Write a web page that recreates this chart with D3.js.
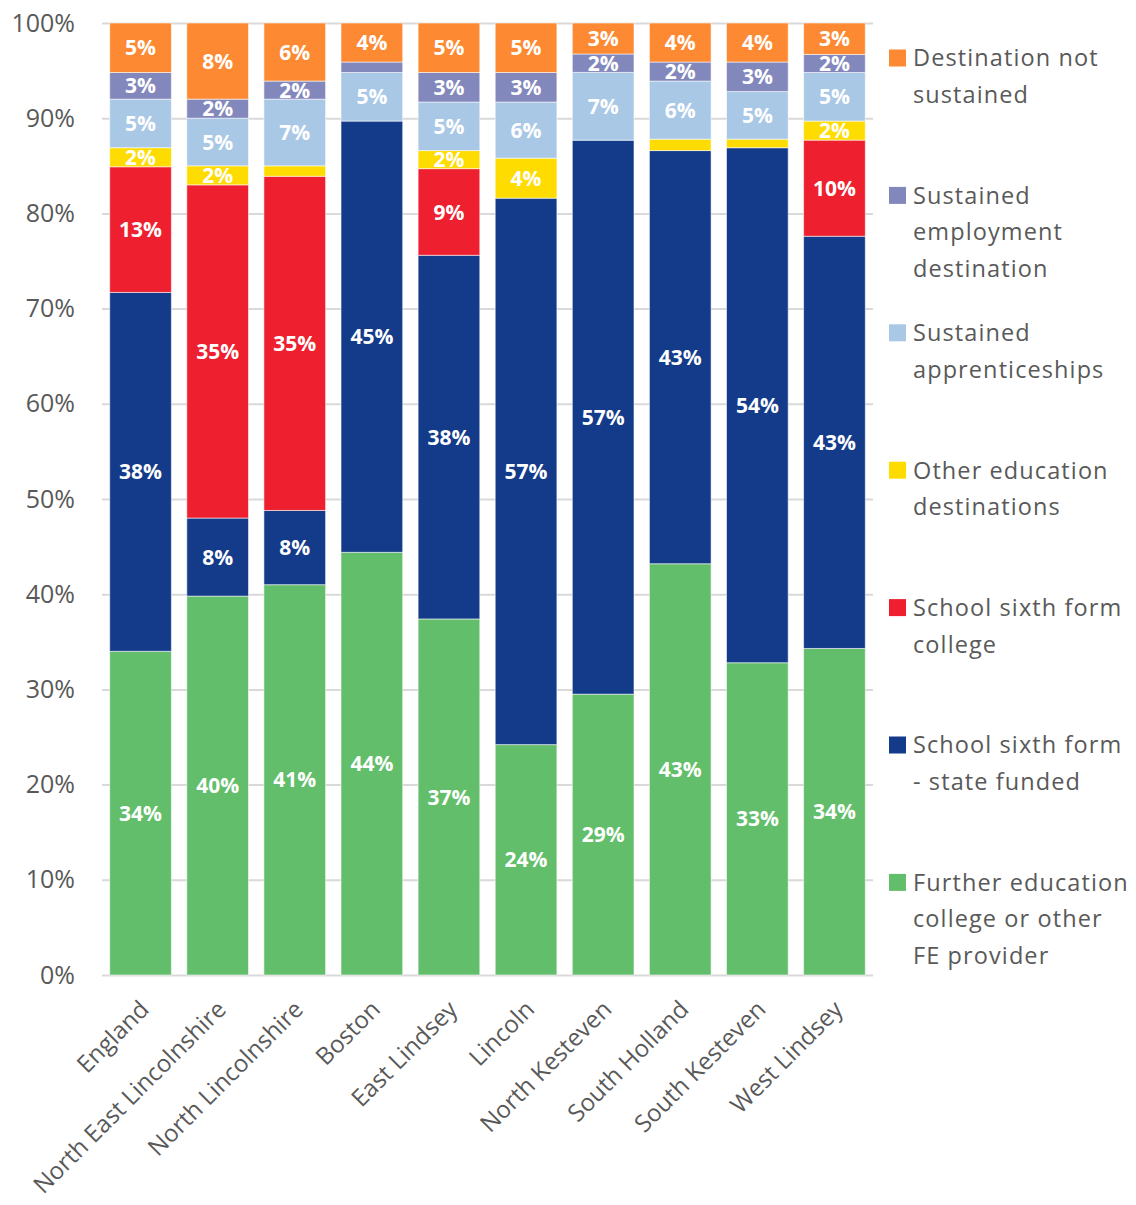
<!DOCTYPE html>
<html>
<head>
<meta charset="utf-8">
<script src="https://cdn.jsdelivr.net/npm/d3@7"></script>
<style>
  html, body { margin: 0; padding: 0; background: #fff; }
  svg { display: block; font-family: "Open Sans", "Noto Sans", sans-serif; }
</style>
</head>
<body>
<svg id="chart" width="1136" height="1205"></svg>
<script>
// ---- data (percent values) ----
const categories = ["England", "North East Lincolnshire", "North Lincolnshire", "Boston", "East Lindsey",
  "Lincoln", "North Kesteven", "South Holland", "South Kesteven", "West Lindsey"];
const furtherEducation     = [34.0, 39.8, 41.0, 44.4, 37.4, 24.2, 29.0, 43.2, 32.8, 34.3];
const sixthFormStateFunded = [37.7,  8.2,  7.8, 45.3, 38.2, 57.4, 57.2, 43.4, 54.1, 43.3];
const sixthFormCollege     = [13.2, 35.0, 35.1,  0.0,  9.1,  0.0,  0.0,  0.0,  0.0, 10.1];
const otherEducation       = [ 2.0,  2.0,  1.1,  0.0,  1.9,  4.2,  0.0,  1.2,  0.9,  2.0];
const apprenticeships      = [ 5.1,  5.0,  7.0,  5.1,  5.1,  5.9,  7.0,  6.1,  5.0,  5.1];
const employment           = [ 2.8,  2.0,  1.9,  1.1,  3.1,  3.1,  1.9,  2.0,  3.1,  1.9];
const notSustained         = [ 5.2,  8.0,  6.1,  4.1,  5.2,  5.2,  3.2,  4.1,  4.1,  3.3];

const seriesKeys = ["fe", "sfState", "sfCollege", "other", "appr", "empl", "notSust"];
const seriesValues = [furtherEducation, sixthFormStateFunded, sixthFormCollege, otherEducation,
  apprenticeships, employment, notSustained];
const seriesColors = ["#62BE6A", "#143B8A", "#EE1F2E", "#FFDC00", "#A9C8E6", "#8388BC", "#FD8A33"];
// legend, listed top to bottom, with the line breaks of the reference
const legendOrder = ["notSust", "empl", "appr", "other", "sfCollege", "sfState", "fe"];
const legendLines = [
  ["Destination not", "sustained"],
  ["Sustained", "employment", "destination"],
  ["Sustained", "apprenticeships"],
  ["Other education", "destinations"],
  ["School sixth form", "college"],
  ["School sixth form", "- state funded"],
  ["Further education", "college or other", "FE provider"]
];
const yTicks = [0, 0.1, 0.2, 0.3, 0.4, 0.5, 0.6, 0.7, 0.8, 0.9, 1.0];

// ---- build table ----
const table = categories.map((c, i) => {
  const row = { category: c };
  seriesKeys.forEach((k, j) => row[k] = seriesValues[j][i]);
  return row;
});

const svg = d3.select("#chart");
const plot = { left: 102, right: 873, top: 23, bottom: 975 };

const x = d3.scaleBand().domain(categories).range([plot.left, plot.right])
  .paddingInner(0.2).paddingOuter(0.1);
const y = d3.scaleLinear().domain([0, 1]).range([plot.bottom, plot.top]);
const color = d3.scaleOrdinal().domain(seriesKeys).range(seriesColors);

// gridlines + y axis
const yAxis = d3.axisLeft(y).tickValues(yTicks).tickFormat(d3.format(".0%"))
  .tickSize(-(plot.right - plot.left)).tickPadding(27);
const gy = svg.append("g").attr("transform", `translate(${plot.left},0)`).call(yAxis);
gy.select(".domain").remove();
gy.selectAll(".tick line").attr("stroke", "#D9D9D9").attr("stroke-width", 2);
gy.selectAll(".tick text").attr("fill", "#595959").style("font-size", "25px")
  .style("font-family", "'Open Sans', sans-serif");

// stacked bars (100% stacked)
const stack = d3.stack().keys(seriesKeys).offset(d3.stackOffsetExpand);
const layers = stack(table);

const gLayers = svg.append("g").selectAll("g").data(layers).join("g")
  .attr("fill", d => color(d.key));
gLayers.selectAll("rect").data(d => d.map(p => ({ p, key: d.key }))).join("rect")
  .attr("x", d => x(d.p.data.category))
  .attr("width", x.bandwidth())
  .attr("y", d => y(d.p[1]))
  .attr("height", d => Math.max(0, y(d.p[0]) - y(d.p[1])))
  .attr("stroke", "rgba(255,255,255,0.55)")
  .attr("stroke-width", 1);

// data labels
const fmt = v => d3.format(".0f")(v) + "%";
const gLabels = svg.append("g");
layers.forEach(layer => {
  layer.forEach(p => {
    const v = p.data[layer.key];
    if (v < 1.5) return;
    gLabels.append("text")
      .attr("x", x(p.data.category) + x.bandwidth() / 2)
      .attr("y", (y(p[0]) + y(p[1])) / 2)
      .attr("dy", "0.36em")
      .attr("text-anchor", "middle")
      .attr("fill", "#fff")
      .style("font-size", "21px")
      .style("font-weight", "700")
      .text(fmt(v));
  });
});

// x axis labels (rotated)
const gx = svg.append("g");
categories.forEach(c => {
  const cx = x(c) + x.bandwidth() / 2;
  gx.append("text")
    .attr("transform", `translate(${cx - 2},${plot.bottom + 24}) rotate(-45)`)
    .attr("text-anchor", "end")
    .attr("dy", "0.7em")
    .attr("fill", "#595959")
    .style("font-size", "24px")
    .text(c);
});

// legend
const gLeg = svg.append("g");
legendOrder.forEach((k, i) => {
  const cy = 58 + i * 137.4;
  gLeg.append("rect").attr("x", 889).attr("y", cy - 8.5).attr("width", 17).attr("height", 17)
    .attr("fill", color(k));
  const t = gLeg.append("text").attr("fill", "#595959").style("font-size", "23.5px")
    .style("letter-spacing", "1.1px");
  legendLines[i].forEach((line, j) => {
    t.append("tspan").attr("x", 913).attr("y", cy + j * 36.5).attr("dy", "0.36em").text(line);
  });
});
</script>
</body>
</html>
